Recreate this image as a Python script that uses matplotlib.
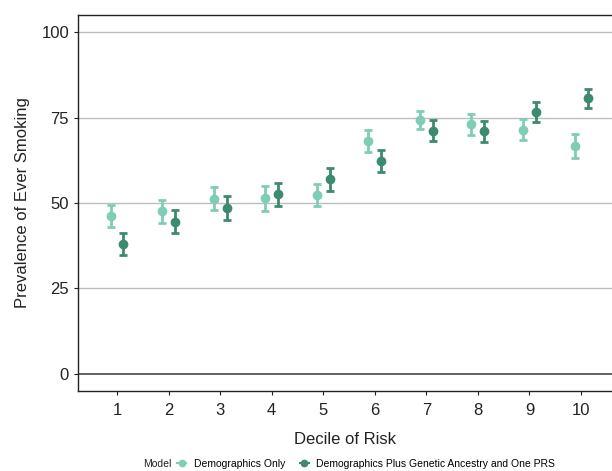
import numpy as np
import matplotlib.pyplot as plt
from matplotlib.lines import Line2D

plt.rcParams['font.family'] = ['Liberation Sans', 'DejaVu Sans']

# Data
deciles = np.arange(1, 11)
demo_mean = [46.2, 47.8, 51.3, 51.4, 52.4, 68.1, 74.3, 73.0, 71.5, 66.7]
demo_lo = [42.9, 44.2, 48.0, 47.8, 49.0, 65.0, 71.6, 69.9, 68.3, 63.2]
demo_hi = [49.3, 50.9, 54.6, 55.1, 55.7, 71.4, 77.0, 76.1, 74.7, 70.2]
prs_mean = [38.0, 44.5, 48.5, 52.5, 56.9, 62.4, 71.1, 71.1, 76.7, 80.6]
prs_lo = [34.8, 41.2, 45.1, 49.1, 53.6, 59.1, 68.2, 67.8, 73.8, 77.9]
prs_hi = [41.3, 47.9, 52.0, 55.9, 60.3, 65.6, 74.3, 74.0, 79.5, 83.3]

models = ['Demographics Only', 'Demographics Plus Genetic Ancestry and One PRS']
colors = ['#7fcdb6', '#3c8a70']

fig = plt.figure(figsize=(6.12, 4.71), dpi=100)
ax = fig.add_axes([0.1275, 0.17, 0.8725, 0.798])

offset = 0.125
for i, (m, lo, hi) in enumerate([(demo_mean, demo_lo, demo_hi),
                                 (prs_mean, prs_lo, prs_hi)]):
    m = np.array(m)
    yerr = [m - np.array(lo), np.array(hi) - m]
    x = deciles + (-offset if i == 0 else offset)
    ax.errorbar(x, m, yerr=yerr, fmt='o', color=colors[i], ms=6,
                elinewidth=2, capsize=3, capthick=2, zorder=3)

for y in [25, 50, 75, 100]:
    ax.axhline(y, color='#bdbdbd', lw=1, zorder=1)
ax.axhline(0, color='#555555', lw=1.3, zorder=1)

ax.set_xlim(0.245, 10.6)
ax.set_ylim(-5, 105)
ax.set_xticks(deciles)
ax.set_yticks([0, 25, 50, 75, 100])
ax.tick_params(labelsize=12, colors='#222222', length=3, width=0.8)
ax.tick_params(axis='x', pad=6)
ax.spines['right'].set_visible(False)
for s in ['left', 'bottom', 'top']:
    ax.spines[s].set_linewidth(1)
    ax.spines[s].set_color('#222222')

ax.set_xlabel('Decile of Risk', fontsize=12, color='#222222', labelpad=10)
ax.set_ylabel('Prevalence of Ever Smoking', fontsize=12, color='#222222', labelpad=8)

# legend at the bottom, title inline
fig.text(143 / 612, 1 - 464 / 471, 'Model', fontsize=7.5, color='#222222',
         ha='left', va='center')
handles = [Line2D([], [], color=c, marker='o', ms=4.5, lw=1.5) for c in colors]
fig.legend(handles, models, loc='center left', bbox_to_anchor=(177 / 612, 1 - 464 / 471),
           ncol=2, frameon=False, fontsize=7.5, handlelength=0.9,
           handletextpad=0.7, columnspacing=1.4, borderpad=0, borderaxespad=0)

fig.savefig('out.png', dpi=100)
